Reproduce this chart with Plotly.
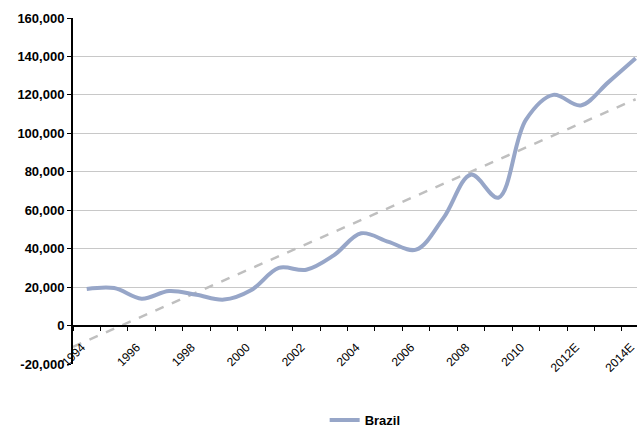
import numpy as np
import plotly.graph_objects as go

years = ["1994", "1995", "1996", "1997", "1998", "1999", "2000", "2001", "2002", "2003",
         "2004", "2005", "2006", "2007", "2008", "2009", "2010", "2011", "2012E", "2013E", "2014E"]
brazil = [19000, 19500, 14000, 18000, 16000, 13500, 18500, 30000, 29000, 36500,
          48000, 43500, 39500, 56000, 78500, 66500, 107000, 120000, 114500, 126500, 139000]
ytick_vals = [-20000, 0, 20000, 40000, 60000, 80000, 100000, 120000, 140000, 160000]
ytick_text = ["-20,000", "0", "20,000", "40,000", "60,000", "80,000", "100,000",
              "120,000", "140,000", "160,000"]

idx = np.arange(len(years))
slope, intercept = np.polyfit(idx, brazil, 1)
trend_x = np.array([-0.5, len(years) - 1])
trend_y = slope * trend_x + intercept

fig = go.Figure()
fig.add_trace(go.Scatter(x=trend_x, y=trend_y, mode="lines", showlegend=False,
                         line=dict(color="#BFBFBF", width=2.5, dash="dash"), hoverinfo="skip"))
fig.add_trace(go.Scatter(x=idx, y=brazil, mode="lines", name="Brazil",
                         line=dict(color="#97A6C8", width=4, shape="spline", smoothing=1)))

ymin, ymax = -20000, 160000
fig.update_layout(
    width=640, height=428,
    margin=dict(l=73, r=3, t=18, b=64, autoexpand=False),
    plot_bgcolor="white", paper_bgcolor="white",
    font=dict(family="Liberation Sans, Arial, sans-serif", color="black"),
    showlegend=True,
    legend=dict(orientation="h", x=0.518, xanchor="center", y=-0.162, yanchor="middle",
                font=dict(size=13, family="Liberation Sans, Arial, sans-serif", weight="bold")),
    xaxis=dict(
        range=[-0.5, 20.05],
        anchor="free", position=(0 - ymin) / (ymax - ymin),
        showline=True, linecolor="black", linewidth=2,
        showgrid=False, zeroline=False,
        tickmode="array", tickvals=list(idx[::2]), ticktext=years[::2],
        tickangle=-45, ticks="outside", ticklen=0,
        ticklabelstandoff=9, ticklabelshift=-5, ticklabeloverflow="allow",
        tickfont=dict(size=12),
        minor=dict(tickmode="array", tickvals=list(idx - 0.5), ticks="outside",
                   ticklen=4, tickcolor="black", tickwidth=1, showgrid=False),
    ),
    yaxis=dict(
        range=[ymin, ymax],
        showline=True, linecolor="black", linewidth=2,
        showgrid=True, gridcolor="#C8C8C8", gridwidth=1,
        zeroline=False,
        tickmode="array", tickvals=ytick_vals, ticktext=ytick_text,
        ticks="outside", ticklen=4, tickcolor="black",
        tickfont=dict(size=13, weight="bold"),
    ),
)
fig.write_html("out.html")
